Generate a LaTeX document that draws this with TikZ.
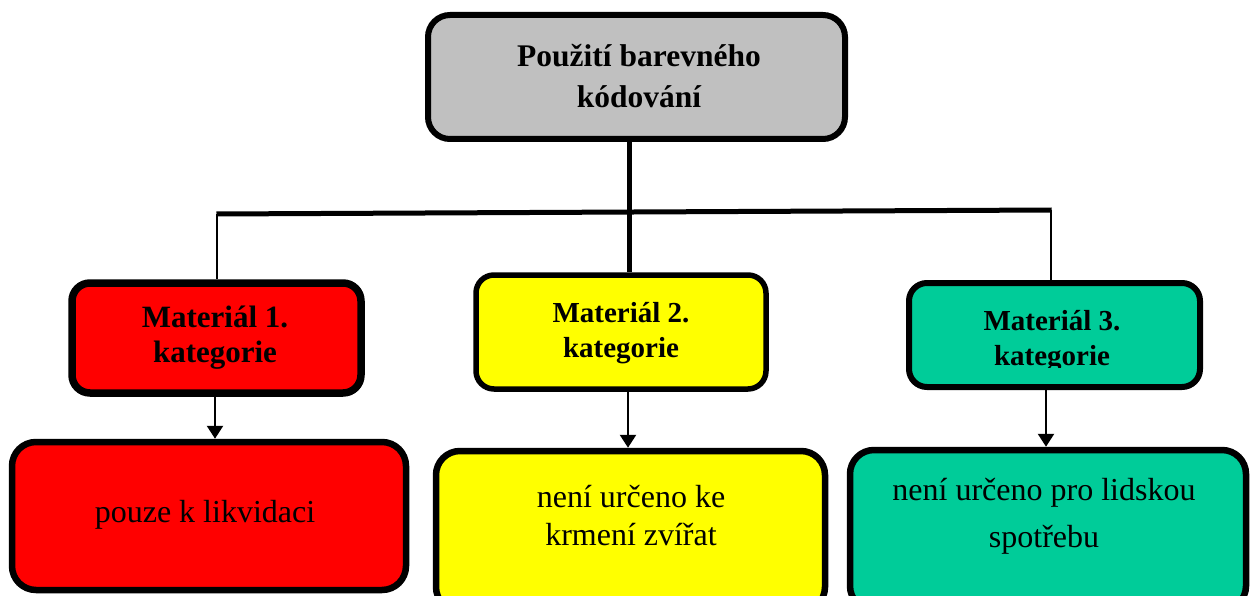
\documentclass[tikz,border=0pt]{standalone}
\usepackage{fontspec}
\setmainfont{Liberation Serif}
\usetikzlibrary{arrows.meta}
\definecolor{boxgray}{HTML}{C0C0C0}
\definecolor{boxred}{HTML}{FF0000}
\definecolor{boxyellow}{HTML}{FFFF00}
\definecolor{boxgreen}{HTML}{00CC99}
\tikzset{
  box/.style={draw=black, rounded corners=20pt, inner sep=0pt, rectangle},
  headtext/.style={font=\bfseries\fontsize{31.5}{41}\selectfont, align=center, anchor=base, inner sep=0pt},
  cattext/.style={font=\bfseries\fontsize{#1}{35}\selectfont, align=center, anchor=base, inner sep=0pt},
  bodytext/.style={font=\fontsize{32}{#1}\selectfont, align=center, anchor=base, inner sep=0pt},
  trunk/.style={line width=5pt},
  branch/.style={line width=2pt},
  arrowline/.style={line width=2.5pt, -{Triangle[width=16pt,length=13pt]}},
}
\begin{document}
\begin{tikzpicture}[x=1pt,y=-1pt]
\useasboundingbox (0,0) rectangle (1250,596);
% top box
\node[box, fill=boxgray, line width=6pt, minimum width=417pt, minimum height=124pt, rounded corners=22pt] (top) at (636.5,77) {};
% category boxes
\node[box, fill=boxred, line width=7.5pt, minimum width=289pt, minimum height=110pt, rounded corners=18pt] (c1) at (216.5,338) {};
\node[box, fill=boxyellow, line width=5.5pt, minimum width=290pt, minimum height=114pt, rounded corners=18pt] (c2) at (621,332) {};
\node[box, fill=boxgreen, line width=6pt, minimum width=291pt, minimum height=104pt, rounded corners=18pt] (c3) at (1054.5,335) {};
% bottom boxes
\node[box, fill=boxred, line width=6.5pt, minimum width=394pt, minimum height=148pt, rounded corners=24pt] (b1) at (209,516) {};
\node[box, fill=boxyellow, line width=6.5pt, minimum width=389pt, minimum height=160pt, rounded corners=24pt] (b2) at (630.5,531) {};
\node[box, fill=boxgreen, line width=6.5pt, minimum width=396pt, minimum height=160pt, rounded corners=24pt] (b3) at (1048,530) {};
% texts (anchor base = baseline of the last line)
\node[headtext] (t0) at (639,108) {Použití barevného\\kódování};
\node[cattext=31] (t1) at (215,362) {Materiál 1.\\kategorie};
\node[cattext=29] (t2) at (621,357) {Materiál 2.\\kategorie};
\begin{scope}
\clip (900,280) rectangle (1205,367);
\node[cattext=29] (t3) at (1052,365) {Materiál 3.\\kategorie};
\end{scope}
\node[bodytext=38] (u1) at (205,522) {pouze k likvidaci};
\node[bodytext=38] (u2) at (631,545) {není určeno ke\\krmení zvířat};
\node[bodytext=47] (u3) at (1044,547) {není určeno pro lidskou\\spotřebu};
% connectors
\coordinate (hl) at (217,214);
\coordinate (hr) at (1051,210);
\draw[trunk] ([xshift=-0.5pt]hl) -- ([xshift=0.5pt]hr);
\draw[trunk] ([xshift=-7.5pt]top.south) -- ([xshift=-7.5pt]top.south |- c2.north);
\draw[branch] (hl) -- (hl |- c1.north);
\draw[branch] (hr) -- (hr |- c3.north);
\draw[arrowline] ([xshift=-1.5pt]c1.south) -- ([xshift=-1.5pt]c1.south |- b1.north);
\draw[arrowline] ([xshift=7pt]c2.south) -- ([xshift=7pt]c2.south |- b2.north);
\draw[arrowline] ([xshift=-8.5pt]c3.south) -- ([xshift=-8.5pt]c3.south |- b3.north);
\end{tikzpicture}
\end{document}
